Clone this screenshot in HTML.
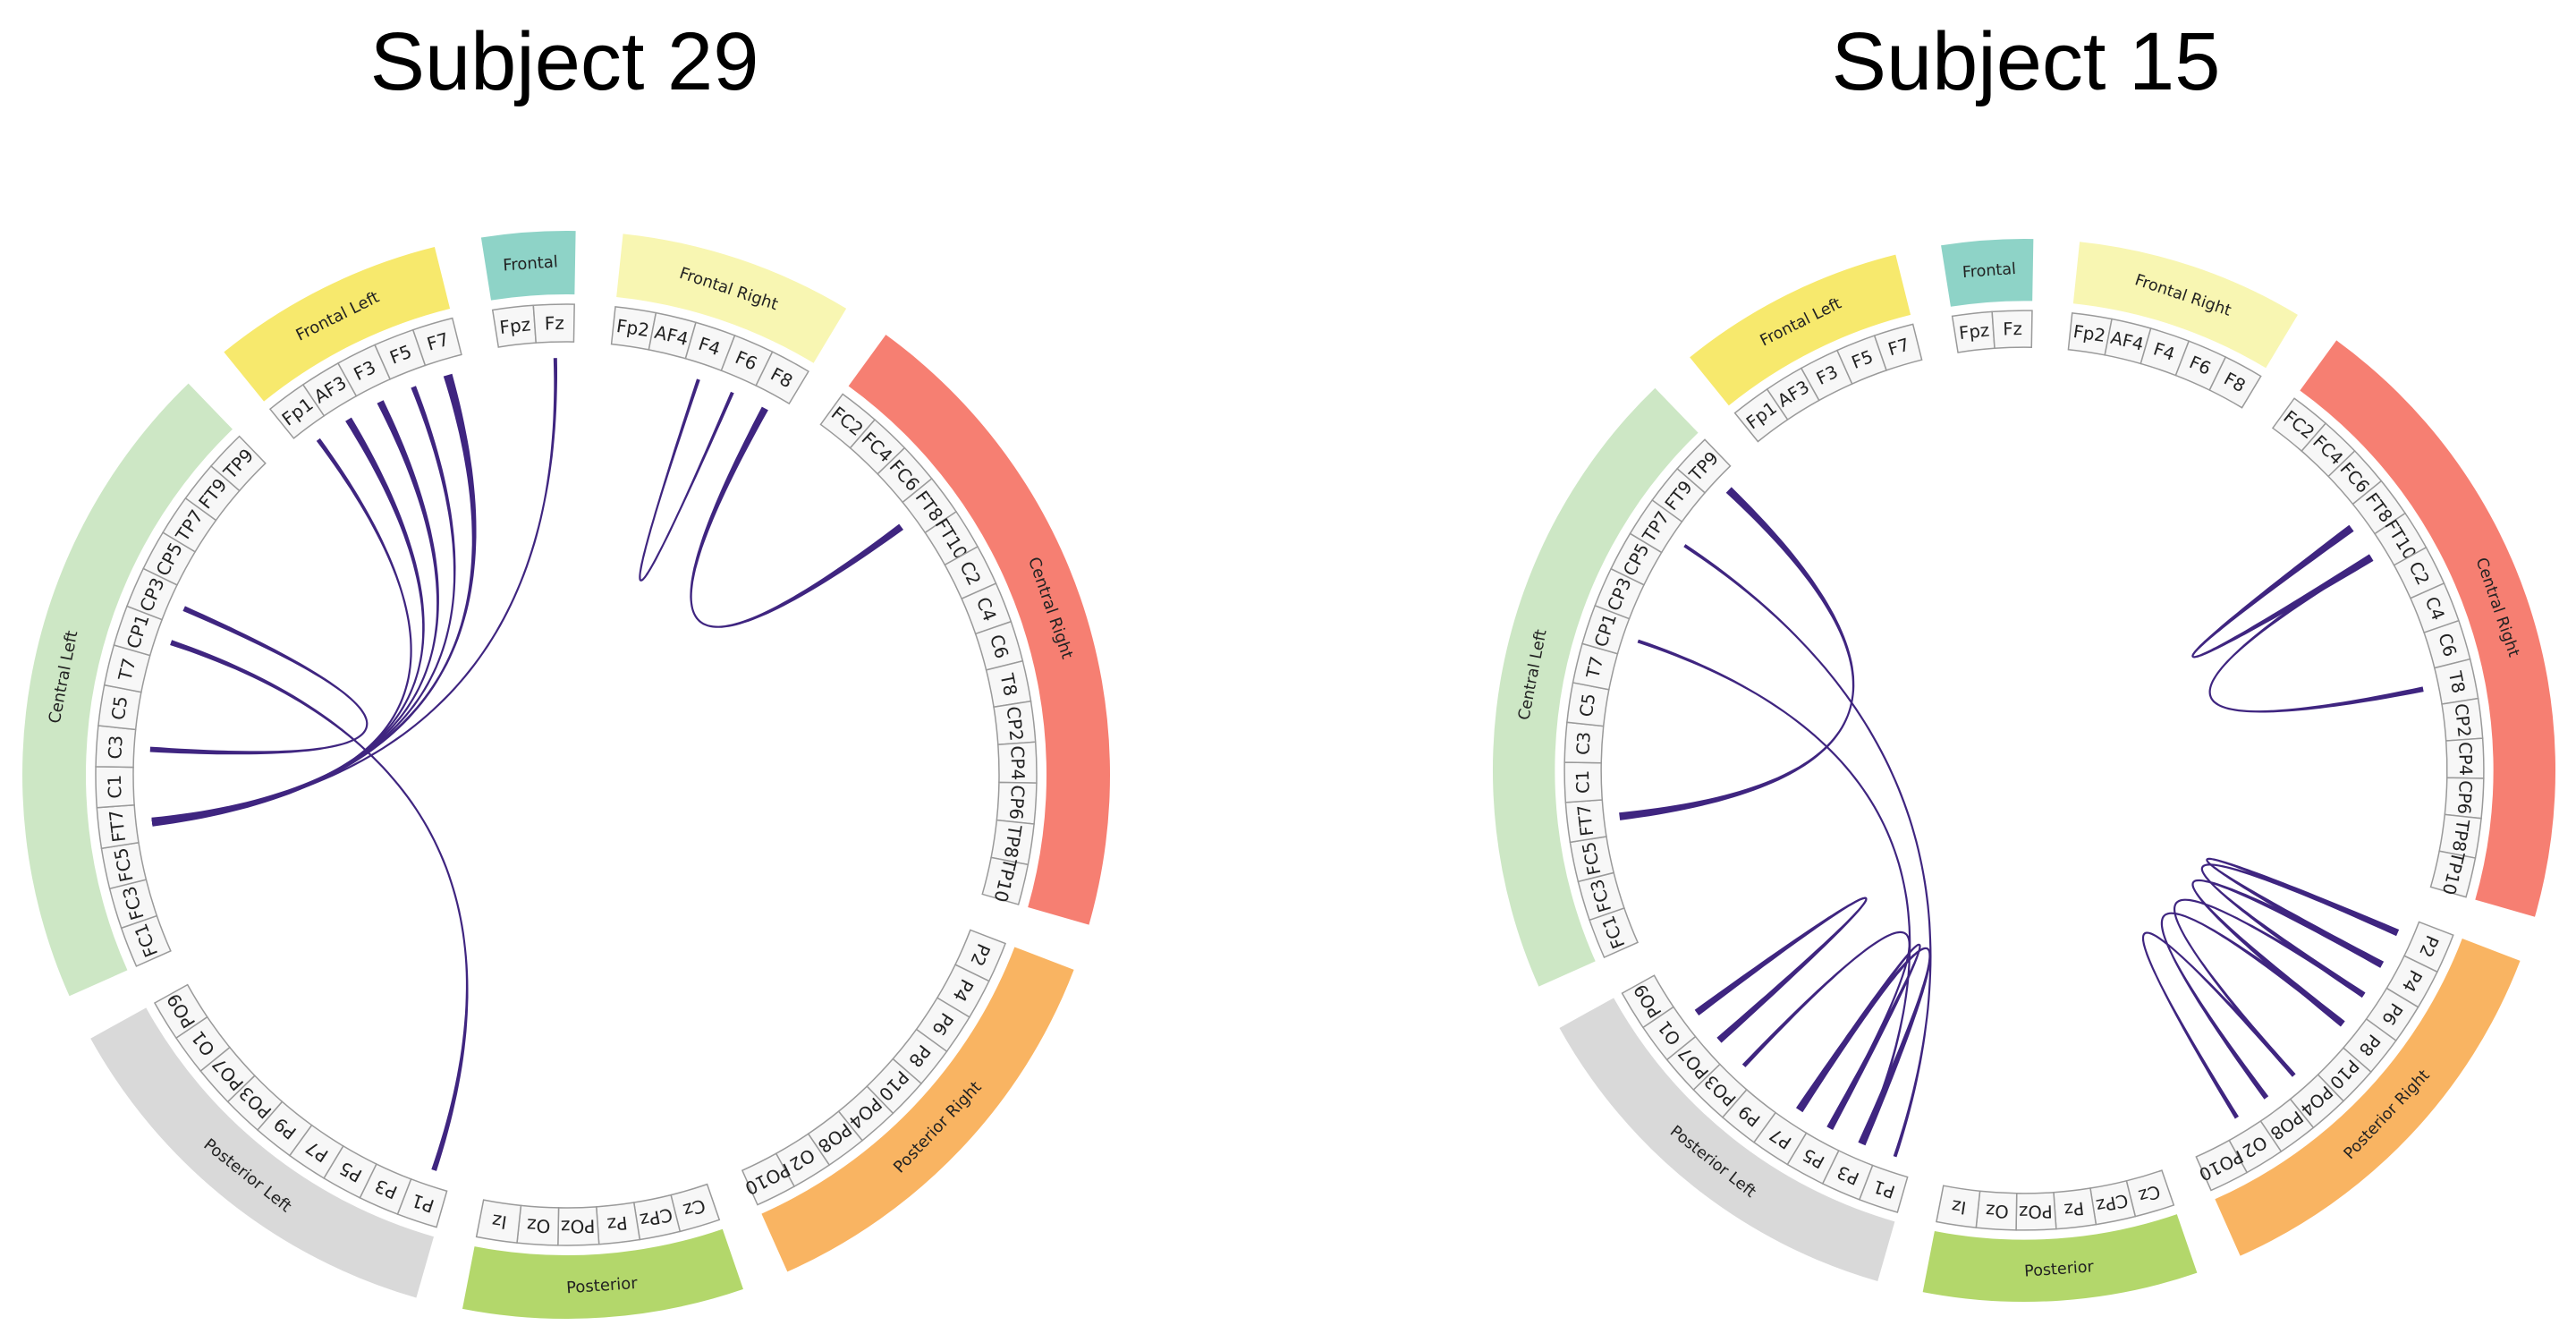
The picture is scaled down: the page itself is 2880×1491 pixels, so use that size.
<!DOCTYPE html>
<html><head><meta charset="utf-8">
<style>
html,body{margin:0;padding:0;background:#fff;}
svg{display:block;}
text{font-family:"DejaVu Sans","Liberation Sans",sans-serif;fill:#222;}
.title{font-family:"Liberation Sans","DejaVu Sans",sans-serif;fill:#000;}
</style></head>
<body>
<svg id="chart" width="2880" height="1491" viewBox="0 0 2880 1491" xmlns="http://www.w3.org/2000/svg">
<text class="title" x="631" y="100" font-size="92" text-anchor="middle">Subject 29</text>
<text class="title" x="2265" y="100" font-size="92" text-anchor="middle">Subject 15</text>
</svg>
<script>
const channels = ['Fpz','Fz','Fp2','AF4','F4','F6','F8','FC2','FC4','FC6','FT8','FT10','C2','C4','C6','T8','CP2','CP4','CP6','TP8','TP10','P2','P4','P6','P8','P10','PO4','PO8','O2','PO10','Cz','CPz','Pz','POz','Oz','Iz','P1','P3','P5','P7','P9','PO3','PO7','O1','PO9','FC1','FC3','FC5','FT7','C1','C3','C5','T7','CP1','CP3','CP5','TP7','FT9','TP9','Fp1','AF3','F3','F5','F7'];
const groupNames = ['Frontal','Frontal Right','Central Right','Posterior Right','Posterior','Posterior Left','Central Left','Frontal Left'];
const groupSizes = [2,5,14,9,6,9,14,5];
const groupColors = ['#8ed3c7','#f8f6b2','#f67f72','#f9b462','#b3d76b','#d9d9d9','#cde7c5','#f7e96d'];

// Subject 29 connections
const s29From = ['Fp1','AF3','F3','F5','F7','Fz','CP3','CP1','F4','F8'];
const s29To   = ['FT7','FT7','FT7','FT7','FT7','FT7','C3','P1','F6','FT8'];
const s29Strength = [5,8,8,6,10,4,6,6,4,8];

// Subject 15 connections
const s15From = ['TP9','TP7','CP1','O1','PO7','PO3','P7','P3','FT8','FT10','P2','P2','P4','P6','PO8','PO4'];
const s15To   = ['FT7','P1','P3','PO7','O1','P5','P5','P7','FT10','T8','P4','P6','P8','PO4','P8','O2'];
const s15Strength = [9,4,4,8,6,5,8,9,9,6,8,7,8,5,6,5];

const NS='http://www.w3.org/2000/svg';
const svg=document.getElementById('chart');

function nodeAngle(name){
  const i=channels.indexOf(name);
  let g=0,acc=0;
  for(let k=0;k<groupSizes.length;k++){ if(i<acc+groupSizes[k]){g=k;break;} acc+=groupSizes[k]; }
  return -6.5+5*(i+g);
}
function pt(cx,cy,r,deg){const a=deg*Math.PI/180;return [cx+r*Math.sin(a),cy-r*Math.cos(a)];}
function sector(cx,cy,r1,r2,a1,a2){
  const p1=pt(cx,cy,r2,a1),p2=pt(cx,cy,r2,a2),p3=pt(cx,cy,r1,a2),p4=pt(cx,cy,r1,a1);
  const lg=(a2-a1)>180?1:0;
  return `M${p1[0]},${p1[1]} A${r2},${r2} 0 ${lg} 1 ${p2[0]},${p2[1]} L${p3[0]},${p3[1]} A${r1},${r1} 0 ${lg} 0 ${p4[0]},${p4[1]} Z`;
}

function drawCircle(id,cx,cy,s,from,to,strength){
  const Rout=608*s,Rin=537*s,Bout=526*s,Bin=484*s,RL=466*s;
  const g=document.createElementNS(NS,'g');
  
  
  svg.appendChild(g);
  // groups
  let idx=0;
  for(let k=0;k<groupNames.length;k++){
    const a1=nodeAngle(channels[idx])-2.5, a2=nodeAngle(channels[idx+groupSizes[k]-1])+2.5;
    const p=document.createElementNS(NS,'path');
    p.setAttribute('d',sector(cx,cy,Rin,Rout,a1,a2));
    p.setAttribute('fill',groupColors[k]);
    
    
    g.appendChild(p);
    const am=(a1+a2)/2, lp=pt(cx,cy,(Rin+Rout)/2,am);
    let rot=am; if(am>90&&am<270) rot=am-180;
    const t=document.createElementNS(NS,'text');
    t.setAttribute('x',lp[0]);t.setAttribute('y',lp[1]);
    t.setAttribute('font-size',18*s);
    t.setAttribute('text-anchor','middle');t.setAttribute('dominant-baseline','central');
    t.setAttribute('transform',`rotate(${rot} ${lp[0]} ${lp[1]})`);
    
    
    t.textContent=groupNames[k];
    g.appendChild(t);
    idx+=groupSizes[k];
  }
  // channel boxes
  channels.forEach(ch=>{
    const a=nodeAngle(ch);
    const p=document.createElementNS(NS,'path');
    p.setAttribute('d',sector(cx,cy,Bin,Bout,a-2.5,a+2.5));
    p.setAttribute('fill','#f7f7f7');p.setAttribute('stroke','#9a9a9a');p.setAttribute('stroke-width','1.5');
    
    
    g.appendChild(p);
    const lp=pt(cx,cy,(Bin+Bout)/2,a);
    const t=document.createElementNS(NS,'text');
    t.setAttribute('x',lp[0]);t.setAttribute('y',lp[1]);
    t.setAttribute('font-size',20*s);
    t.setAttribute('text-anchor','middle');t.setAttribute('dominant-baseline','central');
    t.setAttribute('transform',`rotate(${a} ${lp[0]} ${lp[1]})`);
    
    
    t.textContent=ch;
    g.appendChild(t);
  });
  // connections
  for(let c=0;c<from.length;c++){
    const a0=nodeAngle(from[c]),a1=nodeAngle(to[c]),W=strength[c]*s;
    const P0=pt(cx,cy,RL,a0),P1=pt(cx,cy,RL/3,a0),P2=pt(cx,cy,RL/3,a1),P3=pt(cx,cy,RL,a1);
    const N=80,pts=[];
    for(let i=0;i<=N;i++){
      const t=i/N,u=1-t;
      pts.push([u*u*u*P0[0]+3*u*u*t*P1[0]+3*u*t*t*P2[0]+t*t*t*P3[0],
                u*u*u*P0[1]+3*u*u*t*P1[1]+3*u*t*t*P2[1]+t*t*t*P3[1]]);
    }
    const left=[],right=[];
    for(let i=0;i<=N;i++){
      const a=pts[Math.max(0,i-1)],b=pts[Math.min(N,i+1)];
      let dx=b[0]-a[0],dy=b[1]-a[1];const L=Math.hypot(dx,dy)||1;dx/=L;dy/=L;
      const t=i/N;const w=Math.max(2.2,W*(0.25+0.75*(2*t-1)*(2*t-1)))/2;
      left.push([pts[i][0]-dy*w,pts[i][1]+dx*w]);
      right.push([pts[i][0]+dy*w,pts[i][1]-dx*w]);
    }
    const all=left.concat(right.reverse());
    const p=document.createElementNS(NS,'path');
    p.setAttribute('d','M'+all.map(q=>q[0].toFixed(1)+','+q[1].toFixed(1)).join(' L')+' Z');
    p.setAttribute('fill','#3f2580');
    
    
    g.appendChild(p);
  }
}
drawCircle('subject-29',633,866,1,s29From,s29To,s29Strength);
drawCircle('subject-15',2263,861,0.977,s15From,s15To,s15Strength);
</script>
</body></html>
